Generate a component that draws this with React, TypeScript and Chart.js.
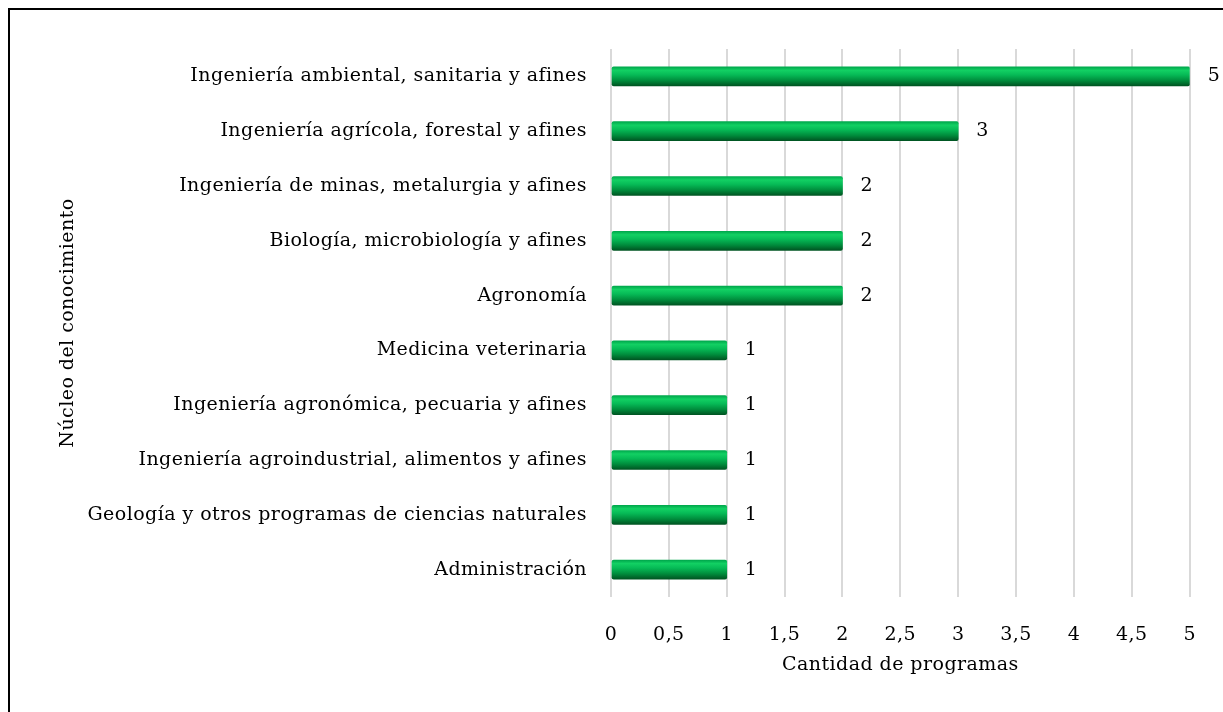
import React, { useEffect, useRef } from "react";
import { Chart, registerables } from "chart.js";

Chart.register(...registerables);

const categories = [
  "Ingeniería ambiental, sanitaria y afines",
  "Ingeniería agrícola, forestal y afines",
  "Ingeniería de minas, metalurgia y afines",
  "Biología, microbiología y afines",
  "Agronomía",
  "Medicina veterinaria",
  "Ingeniería agronómica, pecuaria y afines",
  "Ingeniería agroindustrial, alimentos y afines",
  "Geología y otros programas de ciencias naturales",
  "Administración",
];
const programCounts = [5, 3, 2, 2, 2, 1, 1, 1, 1, 1];
const xTickMin = 0;
const xTickMax = 5;
const xTickStep = 0.5;
const xAxisTitle = "Cantidad de programas";
const yAxisTitle = "Núcleo del conocimiento";

const FONT = "'DejaVu Serif', 'Liberation Serif', serif";
const FONT_SIZE = 19;
const LETTER_SPACING = "0.45px";
const BAR_THICK = 19;

const spacingPlugin = {
  id: "spacing",
  beforeUpdate(chart: any) {
    chart.ctx.letterSpacing = LETTER_SPACING;
  },
  beforeDraw(chart: any) {
    chart.ctx.letterSpacing = LETTER_SPACING;
  },
};

const valueLabels = {
  id: "valueLabels",
  afterDatasetsDraw(chart: any) {
    const ctx = chart.ctx;
    const meta = chart.getDatasetMeta(0);
    ctx.save();
    ctx.font = `${FONT_SIZE}px ${FONT}`;
    ctx.fillStyle = "#000";
    ctx.textAlign = "left";
    ctx.textBaseline = "middle";
    meta.data.forEach((el: any, i: number) => {
      const v = chart.data.datasets[0].data[i];
      ctx.fillText(String(v), el.x + 18, el.y);
    });
    ctx.restore();
  },
};

export default function App() {
  const ref = useRef<HTMLCanvasElement>(null);
  useEffect(() => {
    document.body.style.overflow = "hidden";
    const chart = new Chart(ref.current!, {
      type: "bar",
      data: {
        labels: categories,
        datasets: [
          {
            data: programCounts,
            barThickness: BAR_THICK,
            borderRadius: 2,
            borderSkipped: false,
            backgroundColor: (c: any) => {
              const chart = c.chart;
              const ys = chart.scales && chart.scales.y;
              if (!ys || c.dataIndex === undefined) return "#00a651";
              const cy = ys.getPixelForValue(c.dataIndex);
              if (!isFinite(cy)) return "#00a651";
              const g = chart.ctx.createLinearGradient(0, cy - BAR_THICK / 2, 0, cy + BAR_THICK / 2);
              g.addColorStop(0, "#00a84c");
              g.addColorStop(0.18, "#12d063");
              g.addColorStop(0.42, "#06ba56");
              g.addColorStop(0.72, "#008c3c");
              g.addColorStop(1, "#005522");
              return g;
            },
          },
        ],
      },
      options: {
        indexAxis: "y",
        animation: false,
        responsive: false,
        maintainAspectRatio: false,
        layout: { padding: { top: 39, right: 33, left: 40, bottom: 25 } },
        plugins: { legend: { display: false }, tooltip: { enabled: false } },
        scales: {
          x: {
            min: xTickMin,
            max: xTickMax,
            afterFit: (s: any) => {
              s.height = 90;
            },
            ticks: {
              stepSize: xTickStep,
              padding: 27,
              color: "#000",
              font: { family: FONT, size: FONT_SIZE },
              callback: (v: any) => String(v).replace(".", ","),
            },
            grid: { color: "#d9d9d9", lineWidth: 2, drawTicks: false },
            border: { display: false },
            title: {
              display: true,
              text: xAxisTitle,
              color: "#000",
              font: { family: FONT, size: FONT_SIZE },
              padding: { top: 0, bottom: 11 },
            },
          },
          y: {
            afterFit: (s: any) => {
              s.width = 561;
            },
            ticks: {
              padding: 24,
              color: "#000",
              font: { family: FONT, size: FONT_SIZE },
            },
            grid: { display: false, drawTicks: false },
            border: { display: false },
            title: {
              display: true,
              text: yAxisTitle,
              color: "#000",
              font: { family: FONT, size: FONT_SIZE },
              padding: { top: 7, bottom: 0 },
            },
          },
        },
      },
      plugins: [spacingPlugin, valueLabels],
    });
    return () => chart.destroy();
  }, []);
  return (
    <>
      <div
        style={{
          position: "fixed",
          left: 8,
          top: 8,
          width: 1400,
          height: 900,
          borderTop: "2px solid #000",
          borderLeft: "2px solid #000",
          background: "#fff",
        }}
      />
      <canvas
        ref={ref}
        width={1213}
        height={702}
        style={{ position: "fixed", left: 10, top: 10, display: "block" }}
      />
    </>
  );
}
